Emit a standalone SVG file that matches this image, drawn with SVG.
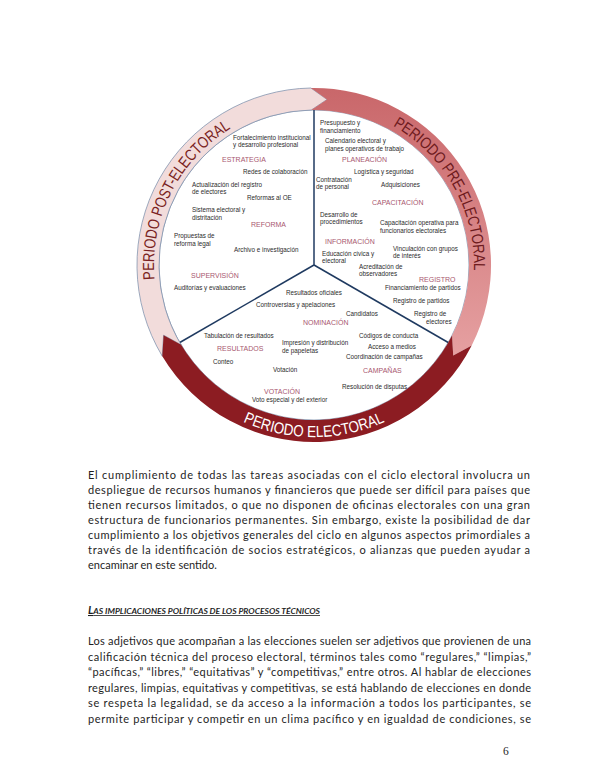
<svg xmlns="http://www.w3.org/2000/svg" width="600" height="777" viewBox="0 0 600 777">
<defs>
<style>
.t{font-family:"Liberation Sans",Arial,sans-serif;font-size:6.3px;fill:#2b2b2b}
.h{font-family:"Liberation Sans",Arial,sans-serif;font-size:7px;fill:#a8576f}
.ring{font-family:"Liberation Sans",Arial,sans-serif;font-size:16px}
.p{font-family:Lato,"Liberation Sans",sans-serif;font-size:11px;fill:#1e1e1e}
.div{stroke:#1f3a60;stroke-width:1.5;fill:none}
</style>
<linearGradient id="gPre" x1="0" y1="88" x2="0" y2="360" gradientUnits="userSpaceOnUse">
<stop offset="0" stop-color="#c9676a"/>
<stop offset="1" stop-color="#e6a1a2"/>
</linearGradient>
<path id="arcPost" d="M167.0,328.2 A160,160 0 0 1 277.3,109.3"/>
<path id="arcPre" d="M343.8,107.8 A160,160 0 0 1 463.6,321.7"/>
<path id="arcEl" d="M182.2,375.6 A172,172 0 0 0 445.8,375.6"/>
</defs>
<rect width="600" height="777" fill="#ffffff"/>

<circle cx="314" cy="265" r="155" fill="#ffffff" stroke="#8496b0" stroke-width="0.8"/>

<g id="connectors">
<line class="div" x1="314" y1="265" x2="314" y2="110"/>
<line class="div" x1="314" y1="265" x2="179.8" y2="342.5"/>
<line class="div" x1="314" y1="265" x2="448.2" y2="342.5"/>
<path id="arrow-post" d="M162.3,356.2 A177,177 0 0 1 310.9,88.0 L327.0,99.5 L311.3,110.0 A155,155 0 0 0 181.1,344.8 L163.6,335.2 Z" fill="#f2dcdb" stroke="#8496b0" stroke-width="0.8"/>
<path id="arrow-pre" d="M310.9,88.0 A177,177 0 0 1 471.7,345.4 L453.2,355.4 L452.1,335.4 A155,155 0 0 0 311.3,110.0 L327.0,99.5 Z" fill="url(#gPre)"/>
<path id="arrow-el" d="M471.7,345.4 A177,177 0 0 1 162.3,356.2 L163.6,335.2 L181.1,344.8 A155,155 0 0 0 452.1,335.4 L453.2,355.4 Z" fill="#8c1c22"/>
</g>

<g id="ring-labels">
<text class="ring" fill="#7a1f22"><textPath href="#arcPost" startOffset="50%" text-anchor="middle" textLength="178" lengthAdjust="spacingAndGlyphs">PERIODO POST-ELECTORAL</textPath></text>
<text class="ring" fill="#6e1a1d"><textPath href="#arcPre" startOffset="50%" text-anchor="middle" textLength="174" lengthAdjust="spacingAndGlyphs">PERIODO PRE-ELECTORAL</textPath></text>
<text class="ring" fill="#ffffff"><textPath href="#arcEl" startOffset="50%" text-anchor="middle" textLength="146" lengthAdjust="spacingAndGlyphs">PERIODO ELECTORAL</textPath></text>
</g>

<g id="post-electoral">
<text class="t" x="233" y="139.5">Fortalecimiento institucional</text>
<text class="t" x="233" y="147">y desarrollo profesional</text>
<text class="h" x="222" y="161.5">ESTRATEGIA</text>
<text class="t" x="243" y="173.5">Redes de colaboración</text>
<text class="t" x="192" y="186.5">Actualización del registro</text>
<text class="t" x="192" y="194">de electores</text>
<text class="t" x="247" y="200">Reformas al OE</text>
<text class="t" x="192" y="212">Sistema electoral y</text>
<text class="t" x="192" y="219.5">distritación</text>
<text class="h" x="251" y="226.5">REFORMA</text>
<text class="t" x="174" y="238">Propuestas de</text>
<text class="t" x="174" y="245.5">reforma legal</text>
<text class="t" x="234" y="251.5">Archivo e investigación</text>
<text class="h" x="191" y="277.5">SUPERVISIÓN</text>
<text class="t" x="174" y="289.5">Auditorías y evaluaciones</text>
</g>

<g id="pre-electoral">
<text class="t" x="320" y="125">Presupuesto y</text>
<text class="t" x="320" y="132.5">financiamiento</text>
<text class="t" x="325" y="143">Calendario electoral y</text>
<text class="t" x="325" y="150.5">planes operativos de trabajo</text>
<text class="h" x="342" y="161.5">PLANEACIÓN</text>
<text class="t" x="354" y="173.5">Logística y seguridad</text>
<text class="t" x="316" y="181.5">Contratación</text>
<text class="t" x="316" y="189">de personal</text>
<text class="t" x="381" y="186.5">Adquisiciones</text>
<text class="h" x="372" y="204.5">CAPACITACIÓN</text>
<text class="t" x="320" y="216.5">Desarrollo de</text>
<text class="t" x="320" y="224">procedimientos</text>
<text class="t" x="380" y="225">Capacitación operativa para</text>
<text class="t" x="380" y="232.5">funcionarios electorales</text>
<text class="h" x="325" y="243.5">INFORMACIÓN</text>
<text class="t" x="393" y="250.5">Vinculación con grupos</text>
<text class="t" x="393" y="258">de interés</text>
<text class="t" x="322" y="255.5">Educación cívica y</text>
<text class="t" x="322" y="263">electoral</text>
<text class="t" x="359" y="268.5">Acreditación de</text>
<text class="t" x="359" y="276">observadores</text>
<text class="h" x="419" y="281.5">REGISTRO</text>
<text class="t" x="385" y="289.5">Financiamiento de partidos</text>
<text class="t" x="393" y="302.5">Registro de partidos</text>
<text class="t" x="414" y="316">Registro de</text>
<text class="t" x="426" y="323.5">electores</text>
</g>

<g id="electoral">
<text class="t" x="286" y="294.5">Resultados oficiales</text>
<text class="t" x="256" y="306.5">Controversias y apelaciones</text>
<text class="t" x="346" y="315.5">Candidatos</text>
<text class="h" x="303" y="324.5">NOMINACIÓN</text>
<text class="t" x="204" y="337.5">Tabulación de resultados</text>
<text class="t" x="359" y="337.5">Códigos de conducta</text>
<text class="t" x="282" y="345">Impresión y distribución</text>
<text class="t" x="282" y="352.5">de papeletas</text>
<text class="h" x="217" y="350.5">RESULTADOS</text>
<text class="t" x="368" y="349">Acceso a medios</text>
<text class="t" x="346" y="358.5">Coordinación de campañas</text>
<text class="t" x="213" y="363.5">Conteo</text>
<text class="t" x="273" y="371.5">Votación</text>
<text class="h" x="363" y="372.5">CAMPAÑAS</text>
<text class="t" x="342" y="388.5">Resolución de disputas</text>
<text class="h" x="264" y="393.5">VOTACIÓN</text>
<text class="t" x="252" y="401.5">Voto especial y del exterior</text>
</g>

<g id="page-text">
<text class="p" x="88" y="479" textLength="442" lengthAdjust="spacing">El cumplimiento de todas las tareas asociadas con el ciclo electoral involucra un</text>
<text class="p" x="88" y="494" textLength="442" lengthAdjust="spacing">despliegue de recursos humanos y financieros que puede ser difícil para países que</text>
<text class="p" x="88" y="509" textLength="442" lengthAdjust="spacing">tienen recursos limitados, o que no disponen de oficinas electorales con una gran</text>
<text class="p" x="88" y="524" textLength="442" lengthAdjust="spacing">estructura de funcionarios permanentes. Sin embargo, existe la posibilidad de dar</text>
<text class="p" x="88" y="539" textLength="442" lengthAdjust="spacing">cumplimiento a los objetivos generales del ciclo en algunos aspectos primordiales a</text>
<text class="p" x="88" y="554" textLength="442" lengthAdjust="spacing">través de la identificación de socios estratégicos, o alianzas que pueden ayudar a</text>
<text class="p" x="88" y="569">encaminar en este sentido.</text>

<text x="88" y="614" font-family="Lato,'Liberation Sans',sans-serif" font-weight="bold" font-style="italic" fill="#1e1e1e" text-decoration="underline" textLength="232" lengthAdjust="spacingAndGlyphs"><tspan font-size="10.5">L</tspan><tspan font-size="8">AS IMPLICACIONES POLÍTICAS DE LOS PROCESOS TÉCNICOS</tspan></text>

<text class="p" x="88" y="645" textLength="443" lengthAdjust="spacing">Los adjetivos que acompañan a las elecciones suelen ser adjetivos que provienen de una</text>
<text class="p" x="88" y="660.5" textLength="443" lengthAdjust="spacing">calificación técnica del proceso electoral, términos tales como “regulares,” “limpias,”</text>
<text class="p" x="88" y="676" textLength="443" lengthAdjust="spacing">“pacíficas,” “libres,” “equitativas” y “competitivas,” entre otros. Al hablar de elecciones</text>
<text class="p" x="88" y="691.5" textLength="443" lengthAdjust="spacing">regulares, limpias, equitativas y competitivas, se está hablando de elecciones en donde</text>
<text class="p" x="88" y="707" textLength="443" lengthAdjust="spacing">se respeta la legalidad, se da acceso a la información a todos los participantes, se</text>
<text class="p" x="88" y="722.5" textLength="443" lengthAdjust="spacing">permite participar y competir en un clima pacífico y en igualdad de condiciones, se</text>

<text x="503" y="755" font-family="'Liberation Serif',serif" font-size="11.5" fill="#1e1e1e">6</text>
</g>
</svg>
